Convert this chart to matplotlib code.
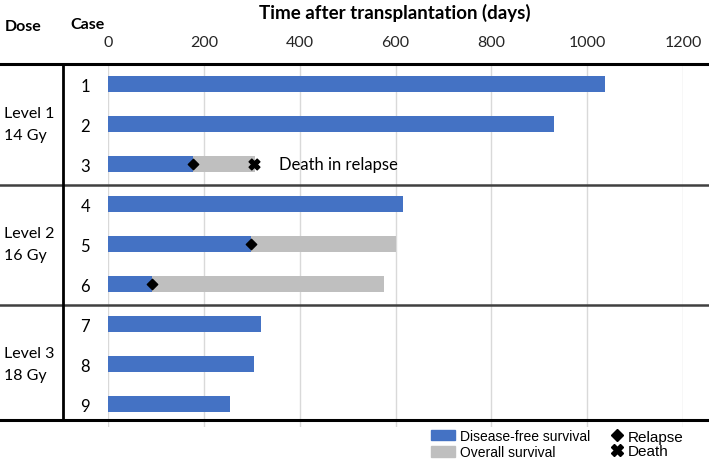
import matplotlib
matplotlib.use('Agg')
import matplotlib.pyplot as plt
from matplotlib.patches import Patch
from matplotlib.lines import Line2D

# data
cases = [1, 2, 3, 4, 5, 6, 7, 8, 9]
dfs_days = [1037, 931, 177, 616, 298, 91, 319, 305, 255]
os_days = [1037, 931, 307, 616, 601, 576, 319, 305, 255]
relapse_cases = [3, 5, 6]
relapse_days = [177, 298, 91]
death_cases = [3]
death_days = [305]
dose_levels = ['Level 1\n14 Gy', 'Level 2\n16 Gy', 'Level 3\n18 Gy']
dose_rows = [2, 5, 8]
xticks = [0, 200, 400, 600, 800, 1000, 1200]

BLUE = '#4472C4'
GREY = '#BFBFBF'

plt.rcParams['font.family'] = ['Lato', 'DejaVu Sans']

W, H = 709, 460
fig = plt.figure(figsize=(W / 100, H / 100), dpi=100)
ax = fig.add_axes([108 / W, 1 - 428 / H, 575 / W, 363 / H])

# bars
ax.barh(cases, os_days, height=0.38, color=GREY, zorder=2)
ax.barh(cases, dfs_days, height=0.38, color=BLUE, zorder=3)
ax.scatter(relapse_days, relapse_cases, marker='D', s=28, color='black', zorder=4)
ax.scatter(death_days, death_cases, marker='X', s=60, color='black', zorder=4)
ax.text(357, 3, 'Death in relapse', ha='left', va='center', fontsize=12)

ax.set_xlim(0, 1200)
ax.set_ylim(9.575, 0.5)
ax.set_xticks(xticks)
ax.xaxis.tick_top()
ax.tick_params(axis='x', length=0, pad=11, labelsize=11.5, labelcolor='#262626')
ax.set_yticks(cases)
ax.set_yticklabels([str(c) for c in cases])
ax.tick_params(axis='y', length=0, pad=13, labelsize=12)
ax.grid(axis='x', color='#D9D9D9', lw=1)
ax.set_axisbelow(True)
for s in ax.spines.values():
    s.set_visible(False)

# table lines
x0 = -108 / 575
x1 = (W - 108) / 575
for y, c, lw in [(0.5, 'black', 2.2), (3.525, '#404040', 1.8), (6.525, '#404040', 1.8), (9.4, 'black', 2.2)]:
    ax.axhline(y, xmin=x0, xmax=x1, color=c, lw=lw, clip_on=False, zorder=5)
vx = (63 - 108) / 575 * 1200
ax.plot([vx, vx], [0.5, 9.4], color='black', lw=2, clip_on=False, zorder=5)

for lab, r in zip(dose_levels, dose_rows):
    ax.text(-217, r, lab, ha='left', va='center', fontsize=11.5, linespacing=1.7, clip_on=False)

fig.text(395 / W, 1 - 13 / H, 'Time after transplantation (days)', ha='center', va='center',
         fontsize=13.5, fontweight='bold')
fig.text(5 / W, 1 - 27 / H, 'Dose', ha='left', va='center', fontsize=11.5, fontweight='bold')
fig.text(70 / W, 1 - 25 / H, 'Case', ha='left', va='center', fontsize=11.5, fontweight='bold')

# legend
h1 = [Patch(color=BLUE, label='Disease-free survival'), Patch(color=GREY, label='Overall survival')]
h2 = [Line2D([], [], marker='D', color='black', ls='none', ms=6, label='Relapse'),
      Line2D([], [], marker='X', color='black', ls='none', ms=8, label='Death')]
fig.legend(handles=h1, loc='center left', bbox_to_anchor=(424 / W, 1 - 445 / H), frameon=False,
           prop={'family': 'Liberation Sans', 'size': 10}, handlelength=1.75, handleheight=0.8,
           handletextpad=0.35, labelspacing=0.15, borderpad=0)
fig.legend(handles=h2, loc='center left', bbox_to_anchor=(603 / W, 1 - 445 / H), frameon=False,
           prop={'family': 'Liberation Sans', 'size': 11}, handlelength=0.8,
           handletextpad=0.3, labelspacing=0.05, borderpad=0)

fig.savefig('out.png', dpi=100)
